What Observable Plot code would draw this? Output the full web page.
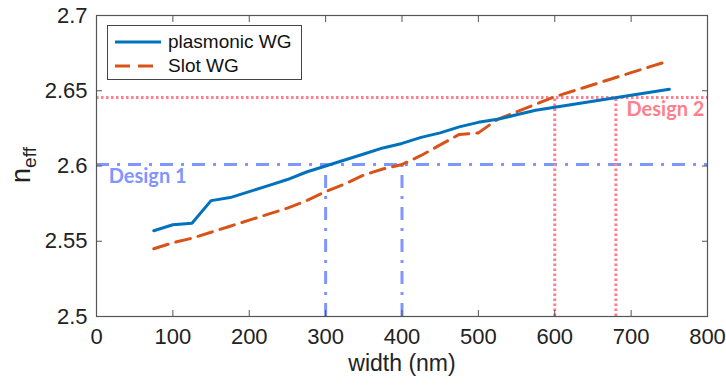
<!DOCTYPE html>
<html>
<head>
<meta charset="utf-8">
<script src="https://cdn.jsdelivr.net/npm/d3@7"></script>
<script src="https://cdn.jsdelivr.net/npm/@observablehq/plot@0.6"></script>
<style>
  html, body { margin: 0; padding: 0; background: #fff; }
  #wrap { position: relative; width: 726px; height: 386px; }
  #legend { position: absolute; left: 107px; top: 25px; width: 193px; height: 53px;
    border: 1px solid #444; background: #fff; font-family: "Liberation Sans", Arial, sans-serif;
    font-size: 19px; color: #111; box-sizing: content-box; }
  #legend .row { position: absolute; left: 6px; height: 24px; display: flex; align-items: center; }
  #legend svg { margin-right: 6px; }
</style>
</head>
<body>
<div id="wrap"></div>
<script>
// ---- data ----
const widths = [75,100,125,150,175,200,225,250,275,300,325,350,375,400,425,450,475,500,525,550,575,600,625,650,675,700,725,750];
const plasmonic = [2.557,2.561,2.562,2.577,2.579,2.583,2.587,2.591,2.596,2.600,2.604,2.608,2.612,2.615,2.619,2.622,2.626,2.629,2.631,2.634,2.637,2.639,2.641,2.643,2.645,2.647,2.649,2.651];
const slot = [2.545,2.549,2.552,2.556,2.560,2.564,2.568,2.572,2.577,2.583,2.588,2.594,2.598,2.601,2.607,2.614,2.621,2.622,2.631,2.636,2.641,2.646,2.650,2.654,2.658,2.662,2.666,2.670];
const xTicks = [0,100,200,300,400,500,600,700,800];
const yTicks = [2.5,2.55,2.6,2.65,2.7];
const design1 = {n: 2.601, widths: [300, 400], label: "Design 1"};
const design2 = {n: 2.6455, widths: [600, 680], label: "Design 2"};
const seriesNames = ["plasmonic WG", "Slot WG"];

const plasData = widths.map((w, i) => ({w, n: plasmonic[i]}));
const slotData = widths.map((w, i) => ({w, n: slot[i]}));
const d1v = design1.widths.map(w => ({w, n: design1.n}));
const d2v = design2.widths.map(w => ({w, n: design2.n}));

const blue = "#0072BD", orange = "#D95319", lightBlue = "#7f95ff", pink = "#ff7f8c";
const fmt = d => String(+d.toFixed(2));

const plot = Plot.plot({
  width: 726,
  height: 386,
  marginLeft: 96,
  marginRight: 19,
  marginTop: 15,
  marginBottom: 70,
  style: {fontFamily: "'Liberation Sans', Arial, sans-serif", fontSize: "22px", color: "#222", background: "#fff"},
  x: {domain: [0, 800], label: null},
  y: {domain: [2.5, 2.7], label: null},
  marks: [
    // design 1 (dash-dot)
    Plot.ruleY([design1.n], {stroke: lightBlue, strokeWidth: 3, strokeDasharray: "13,8,3,8"}),
    Plot.ruleX(d1v, {x: "w", y1: 2.5, y2: "n", stroke: lightBlue, strokeWidth: 3, strokeDasharray: "13,8,3,8"}),
    // design 2 (dotted)
    Plot.ruleY([design2.n], {stroke: pink, strokeWidth: 3, strokeDasharray: "2.5,2.5"}),
    Plot.ruleX(d2v, {x: "w", y1: 2.5, y2: "n", stroke: pink, strokeWidth: 3, strokeDasharray: "2.5,2.5"}),
    // series
    Plot.line(slotData, {x: "w", y: "n", stroke: orange, strokeWidth: 3, strokeDasharray: "15,8"}),
    Plot.line(plasData, {x: "w", y: "n", stroke: blue, strokeWidth: 3}),
    // labels
    Plot.text([design1], {x: 16, y: "n", text: "label", textAnchor: "start", dy: 12, fill: lightBlue,
      fontFamily: "Lato, 'Open Sans', sans-serif", fontWeight: "bold", fontSize: 20}),
    Plot.text([design2], {x: 796, y: "n", text: "label", textAnchor: "end", dy: 12, fill: pink,
      fontFamily: "Lato, 'Open Sans', sans-serif", fontWeight: "bold", fontSize: 20}),
    // axes
    Plot.axisX(xTicks, {anchor: "bottom", tickSize: 0, tickPadding: 12, tickFormat: fmt, fill: "#222"}),
    Plot.axisX(xTicks, {anchor: "bottom", tickSize: -6, tickFormat: () => "", stroke: "#555"}),
    Plot.axisX(xTicks, {anchor: "top", tickSize: -6, tickFormat: () => "", stroke: "#555"}),
    Plot.axisY(yTicks, {anchor: "left", tickSize: 0, tickPadding: 9, tickFormat: fmt, fill: "#222"}),
    Plot.axisY(yTicks, {anchor: "left", tickSize: -6, tickFormat: () => "", stroke: "#555"}),
    Plot.axisY(yTicks, {anchor: "right", tickSize: -6, tickFormat: () => "", stroke: "#555"}),
    Plot.frame({stroke: "#555", strokeWidth: 1.2})
  ]
});

// axis titles
const svg = d3.select(plot);
svg.append("text")
  .attr("x", 402).attr("y", 371)
  .attr("text-anchor", "middle")
  .attr("font-family", "'Liberation Sans', Arial, sans-serif")
  .attr("font-size", 23).attr("fill", "#222")
  .text("width (nm)");
const yl = svg.append("text")
  .attr("transform", "translate(30,165) rotate(-90)")
  .attr("text-anchor", "middle")
  .attr("font-family", "'Liberation Sans', Arial, sans-serif")
  .attr("fill", "#222");
yl.append("tspan").attr("font-size", 27).text("n");
yl.append("tspan").attr("font-size", 19).attr("dy", 6).text("eff");

const wrap = document.getElementById("wrap");
wrap.appendChild(plot);

// legend
const legend = document.createElement("div");
legend.id = "legend";
const styles = [{stroke: blue, dash: null}, {stroke: orange, dash: "15,8"}];
seriesNames.forEach((name, i) => {
  const row = document.createElement("div");
  row.className = "row";
  row.style.top = (4 + i * 24) + "px";
  const s = d3.create("svg").attr("width", 48).attr("height", 10);
  s.append("line").attr("x1", 1).attr("x2", 47).attr("y1", 5).attr("y2", 5)
    .attr("stroke", styles[i].stroke).attr("stroke-width", 3)
    .attr("stroke-dasharray", styles[i].dash);
  row.appendChild(s.node());
  const t = document.createElement("span");
  t.textContent = name;
  row.appendChild(t);
  legend.appendChild(row);
});
wrap.appendChild(legend);
</script>
</body>
</html>
